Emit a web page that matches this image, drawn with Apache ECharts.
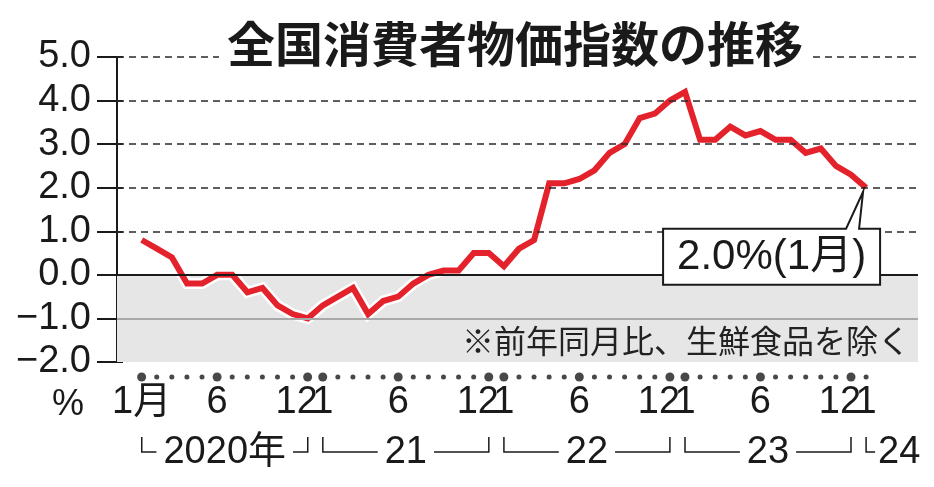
<!DOCTYPE html>
<html>
<head>
<meta charset="utf-8">
<script src="https://cdn.jsdelivr.net/npm/echarts@6.0.0/dist/echarts.min.js"></script>
<style>
html,body{margin:0;padding:0;background:#fff;}
#c{width:934px;height:487px;}
</style>
</head>
<body>
<div id="c"></div>
<script>
// ---- data (Jan 2020 .. Jan 2024), core CPI y/y %
const cpi = [
  0.8, 0.6, 0.4, -0.2, -0.2, 0.0, 0.0, -0.4, -0.3, -0.7, -0.9, -1.0,
  -0.7, -0.5, -0.3, -0.9, -0.6, -0.5, -0.2, 0.0, 0.1, 0.1, 0.5, 0.5,
  0.2, 0.6, 0.8, 2.1, 2.1, 2.2, 2.4, 2.8, 3.0, 3.6, 3.7, 4.0,
  4.2, 3.1, 3.1, 3.4, 3.2, 3.3, 3.1, 3.1, 2.8, 2.9, 2.5, 2.3,
  2.0
];
const tickIdx  = [0, 5, 11, 12, 17, 23, 24, 29, 35, 36, 41, 47, 48];
const tickText = ['1月', '6', '12', '1', '6', '12', '1', '6', '12', '1', '6', '12', '1'];
const bigDotIdx = [0, 5, 11, 12, 17, 23, 24, 29, 35, 36, 41, 47];
const yearText  = ['2020年', '21', '22', '23', '24'];
const yearStart = [0, 12, 24, 36, 48];
const dashedLevels = [1, 2, 3, 4, 5];
const titleText = '全国消費者物価指数の推移';
const noteText = '※前年同月比、生鮮食品を除く';
const unitText = '%';
const lastMonthText = '1月';

const pts = cpi.map((v, i) => [i, v]);
const RED = '#e3222c';
const INK = '#1a1a1a';
const NUMFONT = '"Liberation Sans", "Noto Sans CJK JP", sans-serif';
const JPFONT = '"Noto Sans CJK JP", sans-serif';
const X_MIN = -1.64, X_MAX = 51.44;

const chart = echarts.init(document.getElementById('c'), null, {renderer: 'canvas'});

const option = {
  animation: false,
  backgroundColor: '#fff',
  title: {
    text: titleText,
    left: 219, top: 18,
    padding: [2, 8],
    backgroundColor: '#fff',
    textStyle: {fontSize: 48, fontWeight: 'bold', fontFamily: JPFONT, color: INK}
  },
  grid: [
    {left: 117, right: 16, top: 57, bottom: 125},
    {left: 119, right: 16, top: 370, height: 14}
  ],
  xAxis: [
    {type: 'value', gridIndex: 0, min: X_MIN, max: X_MAX, show: false, axisLine: {onZero: false}},
    {type: 'value', gridIndex: 1, min: -1.5, max: X_MAX, interval: 0.5,
     axisLine: {show: false, onZero: false}, axisTick: {show: false}, splitLine: {show: false},
     axisLabel: {
       show: true, margin: 0, hideOverlap: false, showMinLabel: true, showMaxLabel: true,
       fontSize: 38, fontFamily: NUMFONT, color: INK,
       formatter: function (v) {
         const i = Math.round(v);
         if (Math.abs(v - i) > 1e-6) return '';
         const k = tickIdx.indexOf(i);
         if (k < 0) return '';
         const t = tickText[k];
         if (t === '12') return '{r|12}';
         return t;
       },
       rich: {r: {fontSize: 38, fontFamily: NUMFONT, color: INK, padding: [0, 22, 0, 0]}}
     }}
  ],
  yAxis: [
    {type: 'value', gridIndex: 0, position: 'left', min: -2, max: 5, interval: 1,
     axisLine: {show: true, onZero: false, lineStyle: {color: INK, width: 2}},
     axisTick: {show: true, length: 20, lineStyle: {color: INK, width: 2}},
     splitLine: {show: false},
     axisLabel: {fontSize: 38, fontFamily: NUMFONT, color: INK, margin: 26,
       formatter: v => (v < 0 ? '\u2212' + Math.abs(v).toFixed(1) : v.toFixed(1))}},
    {type: 'value', gridIndex: 0, position: 'left', offset: 0, min: -2, max: 5, interval: 1,
     axisLine: {show: false, onZero: false},
     axisTick: {show: true, inside: true, length: 6, lineStyle: {color: INK, width: 2}},
     splitLine: {show: false}, axisLabel: {show: false}},
    {type: 'value', gridIndex: 1, min: -1, max: 1, show: false, axisLine: {onZero: false}}
  ],
  series: [
    {
      name: 'guides', type: 'line', xAxisIndex: 0, yAxisIndex: 0, z: 1,
      data: pts, symbol: 'none', lineStyle: {opacity: 0, width: 0}, silent: true,
      markArea: {silent: true, itemStyle: {color: '#e6e6e6'},
        data: [[{yAxis: 0}, {yAxis: -2}]]},
      markLine: {silent: true, symbol: ['none', 'none'], label: {show: false},
        data: dashedLevels.map(v => ({yAxis: v, lineStyle: {type: [7, 5], color: '#2a2a2a', width: 1.5}}))
          .concat([
            {yAxis: 0, lineStyle: {type: 'solid', color: INK, width: 2}},
            {yAxis: -1, lineStyle: {type: 'solid', color: '#a8a8a8', width: 2}}
          ])}
    },
    {
      name: 'outline', type: 'line', xAxisIndex: 0, yAxisIndex: 0, z: 3,
      data: pts, symbol: 'none', silent: true,
      lineStyle: {color: '#fff', width: 11, join: 'miter'}
    },
    {
      name: 'cpi', type: 'line', xAxisIndex: 0, yAxisIndex: 0, z: 4,
      data: pts, symbol: 'none',
      lineStyle: {color: RED, width: 6, join: 'miter'}
    },
    {
      name: 'dots', type: 'scatter', xAxisIndex: 1, yAxisIndex: 2, z: 4,
      data: cpi.map((_, i) => ({value: [i, 0], symbolSize: bigDotIdx.indexOf(i) >= 0 ? 9 : 5})),
      itemStyle: {color: INK}, silent: true
    }
  ]
};
chart.setOption(option);

// ---- decorations placed through the chart's own x scale
const px = i => chart.convertToPixel({xAxisIndex: 0, yAxisIndex: 0}, [i, 0])[0];
const toPix = (i, v) => chart.convertToPixel({xAxisIndex: 0, yAxisIndex: 0}, [i, v]);
const ctx = document.createElement('canvas').getContext('2d');
const YEARFONT = '38px "Liberation Sans Narrow", "Liberation Sans", "Noto Sans CJK JP", sans-serif';
function textW(t, f) { ctx.font = f; return ctx.measureText(t).width; }

const graphics = [];
const bTop = 437, bBot = 452, yText = 453, gap = 7;
yearText.forEach((t, k) => {
  const xs = px(yearStart[k]);
  if (k < yearText.length - 1) {
    const xe = px(yearStart[k] + 11);
    const xc = px(yearStart[k] + 5.5);
    const w = textW(t, YEARFONT);
    graphics.push({type: 'polyline', silent: true,
      shape: {points: [[xs, bTop], [xs, bBot], [xc - w / 2 - gap, bBot]]},
      style: {stroke: INK, lineWidth: 1.5, fill: null}});
    graphics.push({type: 'polyline', silent: true,
      shape: {points: [[xc + w / 2 + gap, bBot], [xe, bBot], [xe, bTop]]},
      style: {stroke: INK, lineWidth: 1.5, fill: null}});
    graphics.push({type: 'text', silent: true,
      style: {text: t, x: xc, y: yText, font: YEARFONT, fill: INK, textAlign: 'center', textVerticalAlign: 'middle'}});
  } else {
    graphics.push({type: 'polyline', silent: true,
      shape: {points: [[xs, bTop], [xs, bBot], [xs + 9, bBot]]},
      style: {stroke: INK, lineWidth: 1.5, fill: null}});
    graphics.push({type: 'text', silent: true,
      style: {text: t, x: xs + 12, y: yText, font: YEARFONT, fill: INK, textAlign: 'left', textVerticalAlign: 'middle'}});
  }
});

// unit label
graphics.push({type: 'text', silent: true,
  style: {text: unitText, x: 68, y: 405, font: '36px ' + NUMFONT, fill: INK, textAlign: 'center', textVerticalAlign: 'middle'}});

// note
graphics.push({type: 'text', silent: true, z: 10,
  style: {text: noteText, x: 910, y: 341, font: '32px ' + JPFONT, fill: '#222', textAlign: 'right', textVerticalAlign: 'middle'}});

// callout for the latest value
const lastI = cpi.length - 1;
const [ex, ey] = toPix(lastI, cpi[lastI]);
const L = ex - 203, R = ex + 14, T = ey + 41, B = ey + 97;
graphics.push({type: 'polygon', silent: true, z: 20,
  shape: {points: [[L, T], [ex - 20, T], [ex - 3, ey + 4], [ex - 7, T], [R, T], [R, B], [L, B]]},
  style: {fill: '#fff', stroke: INK, lineWidth: 2}});
graphics.push({type: 'text', silent: true, z: 21,
  style: {text: cpi[lastI].toFixed(1) + '%(' + lastMonthText + ')', x: (L + R) / 2, y: (T + B) / 2 + 1,
    font: '42px ' + NUMFONT, fill: INK, textAlign: 'center', textVerticalAlign: 'middle'}});

chart.setOption({graphic: graphics});
</script>
</body>
</html>
